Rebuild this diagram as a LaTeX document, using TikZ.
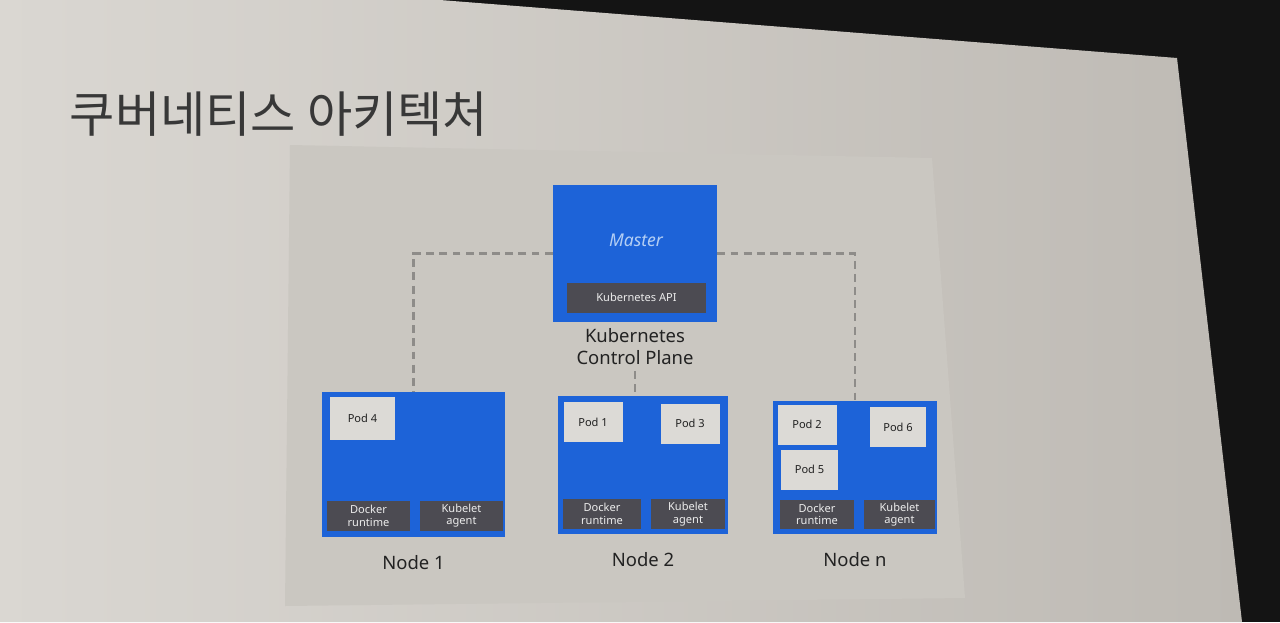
\documentclass[tikz,border=0pt]{standalone}
\usepackage{fontspec}
\setmainfont{Noto Sans}
\newfontfamily\kofont{Noto Sans CJK KR}
\usetikzlibrary{positioning}
\definecolor{kblue}{HTML}{1D63D8}
\definecolor{kdark}{HTML}{4C4B52}
\definecolor{kpod}{HTML}{DCDAD6}
\definecolor{kpanel}{HTML}{CAC7C1}
\definecolor{kline}{HTML}{8E8C89}
\definecolor{klight}{HTML}{B3CEF4}
\definecolor{kslideL}{HTML}{DAD7D2}
\definecolor{kslideR}{HTML}{BEBAB4}
\definecolor{ktext}{HTML}{222222}
\tikzset{
    nodebox/.style={rectangle, fill=kblue, inner sep=0pt},
    podbox/.style={rectangle, fill=kpod, inner sep=0pt, minimum width=1.18cm, minimum height=0.8cm, text=ktext, font=\fontsize{6.3pt}{7pt}\selectfont},
    agentbox/.style={rectangle, fill=kdark, inner sep=0pt, minimum height=0.6cm, align=center, text=white!85!gray, font=\fontsize{6.3pt}{7.2pt}\selectfont},
    caption/.style={align=center, text=ktext, font=\fontsize{10.5pt}{12.5pt}\selectfont},
    link/.style={draw=kline, line width=1.4pt, dash pattern=on 4.5pt off 3pt}
}

\begin{document}
\begin{tikzpicture}[x=0.02cm, y=-0.02cm]
    \useasboundingbox (0,0) rectangle (1280,622);
    % screen and slide
    \fill[black!92] (0,0) rectangle (1280,622);
    \shade[left color=kslideL, right color=kslideR]
        (0,0) -- (440,0) -- (1177,58) -- (1242,622) -- (0,622) -- cycle;
    \fill[kpanel] (290,145) -- (932,158) -- (965,598) -- (285,606) -- cycle;

    % title
    \node (title) [text=black!78] at (279,114) {\kofont\fontsize{28pt}{31pt}\selectfont 쿠버네티스 아키텍처};

    % control plane
    \node (master) [nodebox, minimum width=3.28cm, minimum height=2.74cm] at (635,253.5) {};
    \node (mastertxt) at (636,240) {\fontsize{10pt}{12pt}\selectfont\itshape\color{klight}Master};
    \node (api) [agentbox, minimum width=2.78cm] at (636.5,297.5) {Kubernetes API};
    \node (cplane) [caption, below=0pt of master] {Kubernetes\\Control Plane};

    % node 1
    \node (node1) [nodebox, minimum width=3.66cm, minimum height=2.9cm] at (413.5,464.5) {};
    \node (pod4) [podbox, minimum width=1.3cm, minimum height=0.86cm] at (362.5,418.5) {Pod 4};
    \node (docker1) [agentbox, minimum width=1.66cm] at (368.5,516) {Docker\\runtime};
    \node (kubelet1) [agentbox, minimum width=1.66cm] at (461.5,515.5) {Kubelet\\agent};
    \node (label1) [caption, below=7pt of node1] {Node 1};

    % node 2
    \node (node2) [nodebox, minimum width=3.4cm, minimum height=2.76cm] at (643,465) {};
    \node (pod1) [podbox] at (593,422) {Pod 1};
    \node (pod3) [podbox] at (690,423.5) {Pod 3};
    \node (docker2) [agentbox, minimum width=1.56cm] at (602,514) {Docker\\runtime};
    \node (kubelet2) [agentbox, minimum width=1.48cm] at (688,514) {Kubelet\\agent};
    \node (label2) [caption, below=7pt of node2] {Node 2};

    % node n
    \node (noden) [nodebox, minimum width=3.28cm, minimum height=2.66cm] at (855,467.5) {};
    \node (pod2) [podbox] at (807,424.5) {Pod 2};
    \node (pod6) [podbox, minimum width=1.12cm] at (898,427) {Pod 6};
    \node (pod5) [podbox, minimum width=1.14cm] at (809.5,469.5) {Pod 5};
    \node (dockern) [agentbox, minimum width=1.48cm, minimum height=0.58cm] at (817,514.5) {Docker\\runtime};
    \node (kubeletn) [agentbox, minimum width=1.42cm, minimum height=0.58cm] at (899.5,514.5) {Kubelet\\agent};
    \node (labeln) [caption, below=7pt of noden] {Node n};

    % links
    \draw[link] (master.west) -| (node1.north);
    \draw[link] (master.east) -| (noden.north);
    \draw[link] (cplane.south) -- (cplane.south |- node2.north);
\end{tikzpicture}
\end{document}
